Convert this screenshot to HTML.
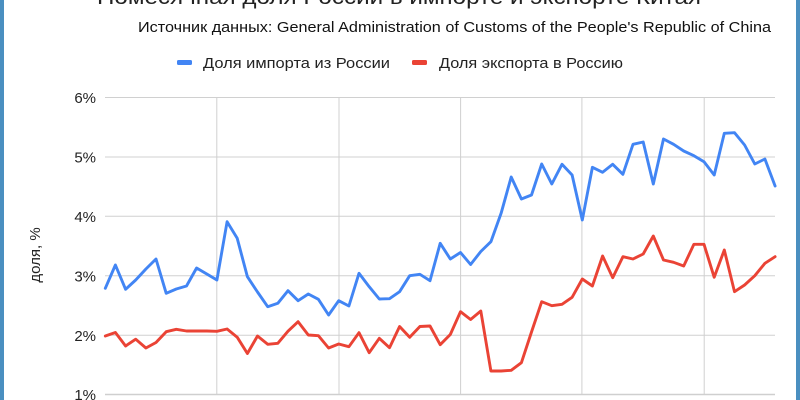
<!DOCTYPE html>
<html><head><meta charset="utf-8"><style>
html,body{margin:0;padding:0;background:#fff;}
svg{display:block;}
text{font-family:"Liberation Sans",sans-serif;}
</style></head><body>
<svg width="800" height="400" viewBox="0 0 800 400" xmlns="http://www.w3.org/2000/svg">
<rect x="0" y="0" width="800" height="400" fill="#fff"/>
<rect x="0" y="0" width="4" height="400" fill="#4a8fc0"/>
<rect x="796" y="0" width="4" height="400" fill="#4a8fc0"/>
<text x="97" y="4" font-size="21" fill="#222" textLength="604" lengthAdjust="spacingAndGlyphs">Помесячная доля России в импорте и экспорте Китая</text>
<text x="138" y="32" font-size="15" fill="#111" textLength="633" lengthAdjust="spacingAndGlyphs">Источник данных: General Administration of Customs of the People's Republic of China</text>
<rect x="177" y="60" width="15" height="5" rx="1.5" fill="#4285f4"/>
<text x="203" y="68" font-size="15" fill="#222" textLength="187" lengthAdjust="spacingAndGlyphs">Доля импорта из России</text>
<rect x="412" y="60" width="15" height="5" rx="1.5" fill="#ea4335"/>
<text x="439" y="68" font-size="15" fill="#222" textLength="184" lengthAdjust="spacingAndGlyphs">Доля экспорта в Россию</text>
<g stroke="#d0d0d0" stroke-width="1">
<line x1="105" y1="97.5" x2="775" y2="97.5"/>
<line x1="105" y1="157" x2="775" y2="157"/>
<line x1="105" y1="216.3" x2="775" y2="216.3"/>
<line x1="105" y1="275.8" x2="775" y2="275.8"/>
<line x1="105" y1="335.2" x2="775" y2="335.2"/>
<line x1="216.8" y1="97.5" x2="216.8" y2="394.5"/>
<line x1="339" y1="97.5" x2="339" y2="394.5"/>
<line x1="460.6" y1="97.5" x2="460.6" y2="394.5"/>
<line x1="581.9" y1="97.5" x2="581.9" y2="394.5"/>
<line x1="704.2" y1="97.5" x2="704.2" y2="394.5"/>
</g>
<line x1="105" y1="394.5" x2="775" y2="394.5" stroke="#cfcfcf" stroke-width="1.6"/>
<g font-size="15" fill="#222" text-anchor="end">
<text x="96" y="103">6%</text>
<text x="96" y="162.5">5%</text>
<text x="96" y="222">4%</text>
<text x="96" y="281.5">3%</text>
<text x="96" y="341">2%</text>
<text x="96" y="400">1%</text>
</g>
<text transform="translate(40,255) rotate(-90)" font-size="15" fill="#222" text-anchor="middle">доля, %</text>
<polyline fill="none" stroke="#4285f4" stroke-width="2.9" stroke-linejoin="round" stroke-linecap="round" points="105.3,288.3 115.4,265 125.6,289.3 135.7,280 145.9,269 156,259 166.2,293.3 176.3,289 186.5,286 196.6,268 206.8,274 216.9,280 227.1,221.7 237.2,238.3 247.4,276.7 257.5,292 267.7,306.7 277.8,303.3 288,290.7 298.1,300.7 308.3,294 318.4,299.3 328.6,315 338.7,300.7 348.9,306 359,273.3 369.2,286.7 379.3,299 389.5,298.7 399.6,291.7 409.7,275.7 419.9,274.3 430,280.7 440.2,243.3 450.3,259 460.5,252.5 470.6,264.5 480.8,251.5 490.9,241.7 501.1,213.3 511.2,177 521.4,199 531.5,195 541.7,164 551.8,184 562,164.3 572.1,175 582.3,220 592.4,167.3 602.6,172.3 612.7,164.3 622.9,174.3 633,144.3 643.2,142 653.3,184 663.5,139 673.6,144.3 683.7,151 693.9,155.7 704,161.7 714.2,175 724.3,133.3 734.5,132.7 744.6,145 754.8,164 764.9,159 775.1,186"/>
<polyline fill="none" stroke="#ea4335" stroke-width="2.9" stroke-linejoin="round" stroke-linecap="round" points="105.3,336 115.4,332.5 125.6,346 135.7,339.2 145.9,348 156,342.5 166.2,331.7 176.3,329.3 186.5,331 196.6,331 206.8,331 216.9,331.3 227.1,329 237.2,337.2 247.4,353.5 257.5,336 267.7,344.3 277.8,343.3 288,331.2 298.1,321.7 308.3,335 318.4,335.7 328.6,348 338.7,344 348.9,346.7 359,332.7 369.2,352.7 379.3,338.3 389.5,347.7 399.6,326.5 409.7,337.3 419.9,326.5 430,326 440.2,344.7 450.3,334.5 460.5,311.7 470.6,319.5 480.8,311 490.9,371 501.1,371 511.2,370.3 521.4,362.7 531.5,332 541.7,301.7 551.8,305.7 562,304.3 572.1,297.3 582.3,279 592.4,286 602.6,256 612.7,277.7 622.9,256.7 633,259 643.2,254 653.3,236 663.5,260 673.6,262.3 683.7,266 693.9,244.3 704,244.3 714.2,277.3 724.3,250 734.5,291.7 744.6,285 754.8,275.7 764.9,263.3 775.1,256.7"/>
</svg>
</body></html>
